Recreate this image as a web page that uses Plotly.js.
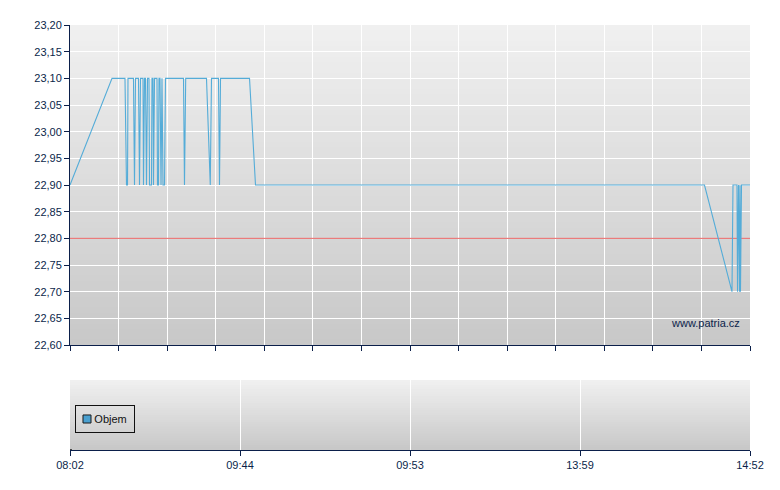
<!DOCTYPE html>
<html>
<head>
<meta charset="utf-8">
<script src="https://cdn.plot.ly/plotly-3.0.1.min.js"></script>
<style>
html,body{margin:0;padding:0;background:#fff;}
#chart{width:780px;height:490px;}
</style>
</head>
<body>
<div id="chart"></div>
<script>
// Trade sequence index (0..140) and price
var tradeIdx = [0, 8.65, 11.32, 11.63, 11.84, 11.94, 13.07, 13.28, 13.49, 14.10, 14.31, 14.51,
  15.03, 15.13, 15.34, 15.54, 15.75, 15.96, 16.26, 16.37, 16.78, 16.88, 17.09, 17.19, 17.40,
  17.91, 18.01, 18.22, 18.32, 18.53, 18.74, 18.94, 19.15, 19.46, 19.66, 23.37, 23.57, 23.82,
  28.10, 28.88, 29.13, 30.57, 30.78, 30.99, 36.96, 38.19, 130.63, 136.29, 136.50, 137.32,
  137.43, 137.63, 137.84, 137.94, 138.04, 138.25, 140];
var price = [22.90, 23.10, 23.10, 22.90, 22.90, 23.10, 23.10, 22.90, 23.10, 23.10, 22.90, 23.10,
  23.10, 22.90, 23.10, 23.10, 22.90, 23.10, 23.10, 22.90, 22.90, 23.10, 23.10, 22.90, 23.10,
  23.10, 22.90, 22.90, 23.10, 23.10, 22.90, 23.10, 22.90, 22.90, 23.10, 23.10, 22.90, 23.10,
  23.10, 22.90, 23.10, 23.10, 22.90, 23.10, 23.10, 22.90, 22.90, 22.70, 22.90, 22.90,
  22.70, 22.90, 22.70, 22.90, 22.70, 22.90, 22.90];
var prevClose = 22.80;
var xRange = [0, 140];
var timeTickIdx = [0, 35, 70, 105, 140];
var timeTickLabels = ["08:02", "09:44", "09:53", "13:59", "14:52"];
var volumeIdx = [0];
var volume = [0];
var volumeName = 'Objem';

var navy = '#0b1f4a';
var volColor = 'rgb(74,160,208)';
var fontFam = '"Liberation Sans", Arial, sans-serif';

function gradient(xref, yref, top, bottom, n) {
  var out = [];
  for (var i = 0; i < n; i++) {
    var t = i / (n - 1);
    var c = Math.round(top + (bottom - top) * t);
    out.push({
      type: 'rect', xref: xref, yref: yref, layer: 'below',
      x0: 0, x1: 1, y0: 0, y1: 1 - i / n,
      fillcolor: 'rgb(' + c + ',' + c + ',' + c + ')', line: {width: 0}
    });
  }
  return out;
}

var shapes = gradient('x domain', 'y domain', 240, 200, 60)
  .concat(gradient('x2 domain', 'y2 domain', 240, 200, 30));
// legend swatch for the volume series
shapes.push({
  type: 'rect', xref: 'paper', yref: 'paper', layer: 'above',
  x0: 0.0191, x1: 0.0309, y0: 0.0635, y1: 0.0824,
  fillcolor: volColor, line: {color: '#1a1a1a', width: 1}
});

var traces = [
  {
    x: xRange, y: [prevClose, prevClose], type: 'scatter', mode: 'lines',
    line: {color: 'rgb(232,100,100)', width: 1}, showlegend: false, hoverinfo: 'skip',
    xaxis: 'x', yaxis: 'y'
  },
  {
    x: tradeIdx, y: price, type: 'scatter', mode: 'lines',
    line: {color: 'rgb(84,172,216)', width: 1.1}, showlegend: false,
    xaxis: 'x', yaxis: 'y'
  },
  {
    x: volumeIdx, y: volume, type: 'bar', name: volumeName,
    marker: {color: volColor, line: {color: '#1a1a1a', width: 1}},
    xaxis: 'x2', yaxis: 'y2', showlegend: false
  }
];

var layout = {
  width: 780, height: 490,
  margin: {l: 70, r: 30, t: 25, b: 40},
  paper_bgcolor: '#ffffff',
  plot_bgcolor: 'rgba(0,0,0,0)',
  separators: ',.',
  font: {family: fontFam, size: 11, color: navy},
  showlegend: false,
  xaxis: {
    domain: [0, 1], range: xRange, anchor: 'y',
    tickmode: 'linear', tick0: 0, dtick: 10,
    showticklabels: false, ticks: 'outside', ticklen: 5, tickcolor: navy,
    showline: true, linecolor: navy, linewidth: 1,
    showgrid: true, gridcolor: '#ffffff', gridwidth: 1, zeroline: false
  },
  yaxis: {
    domain: [0.247, 1], range: [22.60, 23.20], anchor: 'x',
    tickmode: 'linear', tick0: 22.60, dtick: 0.05, tickformat: '.2f',
    ticks: 'outside', ticklen: 5, tickcolor: navy,
    showline: true, linecolor: navy, linewidth: 1,
    showgrid: true, gridcolor: '#ffffff', gridwidth: 1, zeroline: false,
    tickfont: {family: fontFam, size: 11, color: navy}
  },
  xaxis2: {
    domain: [0, 1], range: xRange, anchor: 'y2',
    tickmode: 'array', tickvals: timeTickIdx, ticktext: timeTickLabels,
    ticks: 'outside', ticklen: 5, tickcolor: navy,
    showline: true, linecolor: navy, linewidth: 1,
    showgrid: true, gridcolor: '#ffffff', gridwidth: 1, zeroline: false,
    tickfont: {family: fontFam, size: 11, color: navy}
  },
  yaxis2: {
    domain: [0, 0.1647], range: [0, 1], anchor: 'x2',
    showticklabels: false, ticks: '', showline: false,
    showgrid: false, zeroline: false
  },
  shapes: shapes,
  annotations: [
    {
      text: 'www.patria.cz', xref: 'paper', yref: 'y domain',
      x: 0.988, y: 0.069, xanchor: 'right', yanchor: 'middle',
      showarrow: false, font: {family: fontFam, size: 11, color: navy}
    },
    {
      text: '&nbsp;&nbsp;&nbsp;&nbsp;&nbsp;&nbsp;' + volumeName, xref: 'paper', yref: 'paper',
      x: 0.00735, y: 0.1059, xanchor: 'left', yanchor: 'top',
      width: 58, height: 26, align: 'left', valign: 'middle',
      bordercolor: '#111111', borderwidth: 1, borderpad: 0,
      bgcolor: 'rgba(0,0,0,0)',
      showarrow: false, font: {family: fontFam, size: 11, color: '#111111'}
    }
  ]
};

Plotly.newPlot('chart', traces, layout, {displayModeBar: false, staticPlot: true});
</script>
</body>
</html>
